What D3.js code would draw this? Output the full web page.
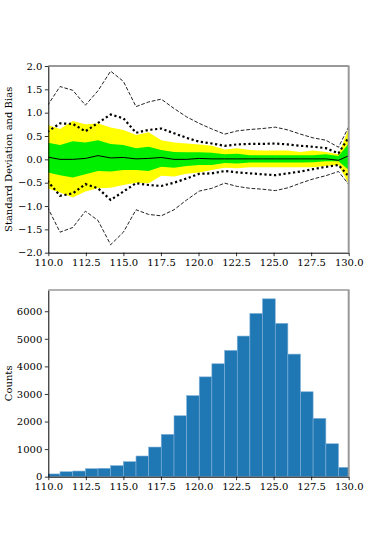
<!DOCTYPE html>
<html>
<head>
<meta charset="utf-8">
<script src="https://cdn.jsdelivr.net/npm/d3@7"></script>
<style>
  body { margin: 0; background: #fff; }
  svg text { font-family: "DejaVu Serif", serif; font-size: 10px; fill: #000; }
</style>
</head>
<body>
<div id="container"></div>
<script>
// bin edges (x) shared by both panels
const edges = [109.94, 110.78, 111.63, 112.47, 113.31, 114.15, 115.00, 115.84, 116.68, 117.52,
  118.37, 119.21, 120.05, 120.89, 121.74, 122.58, 123.42, 124.26, 125.11, 125.95,
  126.79, 127.63, 128.48, 129.32, 130.16];

// top panel series (one value per edge)
const bias     = [0.05, 0.00, 0.00, 0.02, 0.08, 0.03, 0.04, 0.01, 0.02, 0.04, 0.00, 0.00, 0.02, 0.01, 0.01, 0.01, 0.01, 0.01, 0.01, 0.01, 0.01, 0.01, 0.01, -0.02, 0.10];
const greenUp  = [0.36, 0.31, 0.39, 0.36, 0.41, 0.33, 0.31, 0.24, 0.27, 0.20, 0.16, 0.15, 0.15, 0.14, 0.11, 0.12, 0.09, 0.09, 0.09, 0.09, 0.09, 0.09, 0.11, 0.07, 0.40];
const greenLo  = [-0.28, -0.34, -0.39, -0.32, -0.25, -0.26, -0.23, -0.23, -0.25, -0.16, -0.18, -0.14, -0.12, -0.12, -0.08, -0.09, -0.07, -0.07, -0.07, -0.07, -0.07, -0.06, -0.04, -0.04, -0.27];
const yellowUp = [0.74, 0.65, 0.82, 0.75, 0.77, 0.68, 0.63, 0.52, 0.58, 0.41, 0.36, 0.34, 0.32, 0.29, 0.21, 0.24, 0.20, 0.19, 0.19, 0.19, 0.16, 0.19, 0.16, 0.11, 0.80];
const yellowLo = [-0.62, -0.71, -0.82, -0.69, -0.62, -0.61, -0.55, -0.50, -0.51, -0.35, -0.37, -0.31, -0.28, -0.23, -0.18, -0.19, -0.17, -0.17, -0.17, -0.17, -0.17, -0.17, -0.14, -0.12, -0.62];
const dotUp    = [0.59, 0.77, 0.76, 0.60, 0.78, 0.96, 0.88, 0.57, 0.63, 0.66, 0.56, 0.46, 0.38, 0.34, 0.29, 0.32, 0.33, 0.33, 0.34, 0.32, 0.29, 0.27, 0.24, 0.13, 0.55];
const dotLo    = [-0.46, -0.78, -0.73, -0.53, -0.62, -0.87, -0.69, -0.51, -0.55, -0.57, -0.50, -0.41, -0.31, -0.30, -0.25, -0.28, -0.30, -0.32, -0.34, -0.30, -0.26, -0.21, -0.16, -0.12, -0.42];
const dashUp   = [1.15, 1.56, 1.48, 1.16, 1.47, 1.89, 1.67, 1.13, 1.23, 1.29, 1.09, 0.91, 0.77, 0.65, 0.54, 0.61, 0.64, 0.66, 0.69, 0.63, 0.54, 0.46, 0.41, 0.26, 0.80];
const dashLo   = [-1.02, -1.56, -1.46, -1.11, -1.31, -1.83, -1.56, -1.08, -1.18, -1.21, -1.08, -0.87, -0.68, -0.62, -0.51, -0.58, -0.62, -0.64, -0.67, -0.61, -0.51, -0.42, -0.35, -0.26, -0.60];

// bottom panel histogram counts (one per bin)
const counts = [100, 180, 205, 290, 305, 400, 545, 750, 1075, 1535, 2210, 2940, 3620, 4095,
  4580, 5100, 5920, 6450, 5560, 4445, 3080, 2115, 1195, 340];

const xTicks = [110, 112.5, 115, 117.5, 120, 122.5, 125, 127.5, 130];
const yTicksTop = [-2, -1.5, -1, -0.5, 0, 0.5, 1, 1.5, 2];
const yTicksBot = [0, 1000, 2000, 3000, 4000, 5000, 6000];

const W = 388, H = 545;
const left = 48.3, right = 348.7;
const top1 = 66, bot1 = 252.7;
const top2 = 290, bot2 = 476.7;

const minus = s => s.replace("-", "\u2212");

const svg = d3.select("#container").append("svg")
  .attr("width", W).attr("height", H);

const x = d3.scaleLinear().domain([110, 130]).range([left, right]);
const y1 = d3.scaleLinear().domain([-2, 2]).range([bot1, top1]);
const y2 = d3.scaleLinear().domain([0, 6770]).range([bot2, top2]);

const defs = svg.append("defs");
defs.append("clipPath").attr("id", "clip1").append("rect")
  .attr("x", left).attr("y", top1).attr("width", right - left).attr("height", bot1 - top1);
defs.append("clipPath").attr("id", "clip2").append("rect")
  .attr("x", left).attr("y", top2).attr("width", right - left).attr("height", bot2 - top2);

/* TOP PANEL */
const g1 = svg.append("g").attr("clip-path", "url(#clip1)");
const idx = d3.range(edges.length);

const band = (lo, hi) => d3.area()
  .x(i => x(edges[i]))
  .y0(i => y1(lo[i]))
  .y1(i => y1(hi[i]));
const line = arr => d3.line()
  .x(i => x(edges[i]))
  .y(i => y1(arr[i]));

g1.append("path").attr("d", band(yellowLo, yellowUp)(idx)).attr("fill", "#ffff00");
g1.append("path").attr("d", band(greenLo, greenUp)(idx)).attr("fill", "#00ee00");
g1.append("path").attr("d", line(bias)(idx))
  .attr("fill", "none").attr("stroke", "#000").attr("stroke-width", 1);
[dotUp, dotLo].forEach(arr => {
  g1.append("path").attr("d", line(arr)(idx))
    .attr("fill", "none").attr("stroke", "#000").attr("stroke-width", 2.2)
    .attr("stroke-dasharray", "2.2,2.6");
});
[dashUp, dashLo].forEach(arr => {
  g1.append("path").attr("d", line(arr)(idx))
    .attr("fill", "none").attr("stroke", "#222").attr("stroke-width", 1)
    .attr("stroke-dasharray", "3.7,1.8");
});

/* BOTTOM PANEL */
const g2 = svg.append("g").attr("clip-path", "url(#clip2)");
g2.selectAll("rect.bar")
  .data(counts)
  .join("rect")
  .attr("class", "bar")
  .attr("x", (d, i) => x(edges[i]))
  .attr("width", (d, i) => x(edges[i + 1]) - x(edges[i]))
  .attr("y", d => y2(d))
  .attr("height", d => bot2 - y2(d))
  .attr("fill", "#1f77b4")
  .attr("stroke", "#7fb0d8")
  .attr("stroke-width", 0.6);

/* AXES */
function drawAxes(yScale, yTicks, fmt, top, bot, label, labelX, topSpine) {
  const xa = svg.append("g")
    .attr("transform", `translate(0,${bot})`)
    .call(d3.axisBottom(x).tickValues(xTicks).tickFormat(d3.format(".1f"))
      .tickSizeInner(3.5).tickSizeOuter(0).tickPadding(3));
  const ya = svg.append("g")
    .attr("transform", `translate(${left},0)`)
    .call(d3.axisLeft(yScale).tickValues(yTicks).tickFormat(fmt)
      .tickSizeInner(3.5).tickSizeOuter(0).tickPadding(2.5));
  [xa, ya].forEach(a => {
    a.select(".domain").attr("stroke", "#000").attr("stroke-width", 1);
    a.selectAll(".tick line").attr("stroke", "#000").attr("stroke-width", 0.8);
    a.selectAll("text").attr("font-family", "DejaVu Serif").attr("font-size", 10).attr("fill", "#000");
  });
  svg.append("line")
    .attr("x1", left).attr("x2", right).attr("y1", top).attr("y2", top)
    .attr("stroke", topSpine.color).attr("stroke-width", topSpine.w);
  svg.append("line")
    .attr("x1", right).attr("x2", right).attr("y1", top - 0.5).attr("y2", bot)
    .attr("stroke", "#999").attr("stroke-width", 2);
  svg.append("text")
    .attr("transform", `translate(${labelX},${(top + bot) / 2}) rotate(-90)`)
    .attr("text-anchor", "middle")
    .attr("dominant-baseline", "middle")
    .text(label);
}

drawAxes(y1, yTicksTop, d => minus(d3.format(".1f")(d)), top1, bot1,
  "Standard Deviation and Bias", 9, { color: "#333", w: 1 });
drawAxes(y2, yTicksBot, d3.format("d"), top2, bot2,
  "Counts", 9, { color: "#999", w: 1.5 });
</script>
</body>
</html>
